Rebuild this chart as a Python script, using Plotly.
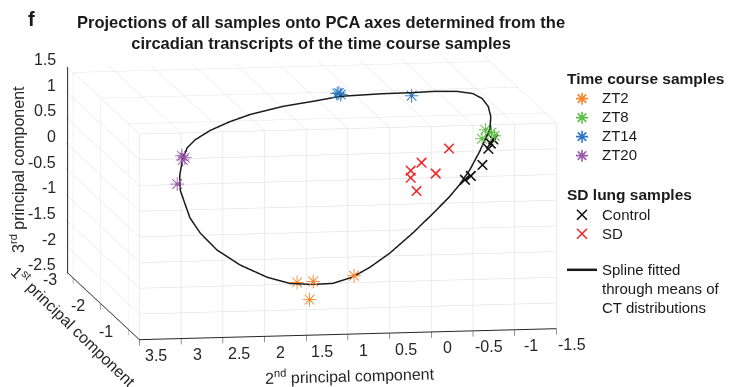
import plotly.graph_objects as go

FONT = "Arial, Liberation Sans, sans-serif"
W, H = 732, 379  # page has an 8px body margin; figure fills the rest of 740x387

# ---- data: (2nd PC, 1st PC, 3rd PC) ----
zt2_pc2 = [1.48, 1.22, 1.33, 0.73]
zt2_pc1 = [-1.0, -1.2, -1.0, -1.2]
zt2_pc3 = [-1.67, -1.76, -2.01, -1.67]

zt8_pc2 = [-1.11, -1.25, -1.07, -1.22]
zt8_pc1 = [-2.0, -2.2, -2.0, -2.0]
zt8_pc3 = [0.69, 0.53, 0.52, 0.57]

zt14_pc2 = [0.37, 0.36, 0.35, -0.49]
zt14_pc1 = [-2.9, -2.8, -2.9, -2.8]
zt14_pc3 = [1.01, 1.04, 1.02, 0.98]

zt20_pc2 = [2.53, 2.43, 2.52, 2.52]
zt20_pc1 = [-2.0, -2.2, -2.0, -2.2]
zt20_pc3 = [0.34, 0.20, 0.26, -0.31]

ctrl_pc2 = [-1.14, -1.11, -1.08, -1.01, -0.87, -0.80]
ctrl_pc1 = [-1.8, -1.8, -1.8, -1.8, -1.8, -1.8]
ctrl_pc3 = [0.60, 0.52, 0.42, 0.11, -0.10, -0.17]

sd_pc2 = [-0.51, -0.18, -0.05, -0.35, -0.05, -0.12]
sd_pc1 = [-1.5, -1.5, -1.5, -1.5, -1.5, -1.5]
sd_pc3 = [0.60, 0.34, 0.19, 0.12, 0.05, -0.21]

spline_pc2 = [2.52, 2.43, 2.30, 2.09, 1.82, 1.54, 1.11, 0.64, 0.33, -0.18,
              -0.51, -0.77, -1.00, -1.16, -1.24, -1.28, -1.26, -1.20, -1.11, -1.01,
              -0.86, -0.70, -0.55, -0.31, -0.04, 0.27, 0.54, 0.78, 1.05, 1.29,
              1.56, 1.80, 2.06, 2.27, 2.44, 2.53, 2.56, 2.58, 2.57, 2.52]
spline_pc1 = [-2.0, -2.1, -2.2, -2.3, -2.4, -2.5, -2.6, -2.8, -2.9, -2.9,
              -2.85, -2.8, -2.7, -2.6, -2.5, -2.4, -2.25, -2.1, -2.0, -1.9,
              -1.8, -1.7, -1.6, -1.5, -1.4, -1.3, -1.2, -1.1, -1.0, -1.0,
              -1.0, -1.1, -1.3, -1.5, -1.6, -1.7, -1.8, -1.9, -1.95, -2.0]
spline_pc3 = [0.26, 0.44, 0.54, 0.66, 0.77, 0.85, 0.94, 0.93, 0.95, 0.98,
              1.01, 1.05, 1.09, 1.09, 1.04, 0.93, 0.81, 0.64, 0.50, 0.32,
              0.02, -0.22, -0.39, -0.67, -0.98, -1.31, -1.52, -1.65, -1.71, -1.72,
              -1.69, -1.61, -1.46, -1.26, -0.97, -0.72, -0.48, -0.28, -0.02, 0.26]

x_range = [-1.5, 3.5]
y_range = [-0.6, -3.2]   # reversed: -3 nearest the viewer
z_range = [-2.5, 1.5]
x_ticks = [-1.5, -1, -0.5, 0, 0.5, 1, 1.5, 2, 2.5, 3, 3.5]
y_ticks = [-3, -2, -1]
z_ticks = [-2.5, -2, -1.5, -1, -0.5, 0, 0.5, 1, 1.5]

groups = [
    ("ZT2", "#F5862C", zt2_pc2, zt2_pc1, zt2_pc3, "✳"),
    ("ZT8", "#5DBE45", zt8_pc2, zt8_pc1, zt8_pc3, "✳"),
    ("ZT14", "#2F76C4", zt14_pc2, zt14_pc1, zt14_pc3, "✳"),
    ("ZT20", "#9A5BAA", zt20_pc2, zt20_pc1, zt20_pc3, "✳"),
    ("Control", "#111111", ctrl_pc2, ctrl_pc1, ctrl_pc3, "×"),
    ("SD", "#EE2A2A", sd_pc2, sd_pc1, sd_pc3, "×"),
]

fig = go.Figure()

fig.add_trace(go.Scatter3d(x=spline_pc2, y=spline_pc1, z=spline_pc3, mode="lines",
                           line=dict(color="#1a1a1a", width=3), showlegend=False,
                           hoverinfo="skip"))
for name, col, xs, ys, zs, ch in groups:
    fig.add_trace(go.Scatter3d(x=xs, y=ys, z=zs, mode="text", text=[ch] * len(xs),
                               textfont=dict(color=col, size=19, family="DejaVu Sans"),
                               textposition="middle center", showlegend=False, name=name))


def item(t):
    return f'<span style="font-size:15px">{t}</span>'


# legend entries
for name, col, xs, ys, zs, ch in groups:
    tc = ch == "✳"
    fig.add_trace(go.Scatter(x=[None], y=[None], mode="markers", name=item(name),
                             legendgroup="tc" if tc else "sd",
                             legendgrouptitle=dict(text="<b>Time course samples</b>" if tc else "<b>SD lung samples</b>",
                                                   font=dict(size=15.5, family=FONT, color="#1a1a1a")),
                             marker=dict(symbol="asterisk-open" if tc else "x-thin-open", size=10,
                                         line=dict(color=col, width=1.6), color=col)))
spline_label = ["Spline fitted", "through means of", "CT distributions"]
for i, t in enumerate(spline_label):
    fig.add_trace(go.Scatter(x=[None], y=[None], mode="lines", legendgroup="sp", name=item(t),
                             line=dict(color="#1a1a1a", width=2.5 if i == 0 else 0)))

ax_common = dict(showbackground=False, gridcolor="#dcdcdc", gridwidth=1, showline=True,
                 linecolor="#262626", linewidth=2, ticks="outside", tickcolor="#262626",
                 ticklen=6, showticklabels=False, title=dict(text=""),
                 zeroline=False, showspikes=False)

tick_font = dict(size=16, color="#262626", family=FONT)
scene_ann = []
for v in z_ticks:
    scene_ann.append(dict(x=x_range[1], y=y_range[1], z=v, text=f"{v:g}", showarrow=False,
                          xanchor="right", yanchor="middle", xshift=-10, yshift=8, font=tick_font))
for v in y_ticks:
    scene_ann.append(dict(x=x_range[1], y=v, z=z_range[0], text=f"{v:g}", showarrow=False,
                          xanchor="right", yanchor="middle", xshift=-14, yshift=-2, font=tick_font))
for v in x_ticks:
    scene_ann.append(dict(x=v, y=y_range[0], z=z_range[0], text=f"{v:g}", showarrow=False,
                          xanchor="center", yanchor="middle", xshift=16, yshift=-16, font=tick_font))

title_font = dict(size=16, family=FONT, color="#262626")

fig.update_layout(
    width=W, height=H, margin=dict(l=0, r=0, t=0, b=0),
    paper_bgcolor="white", plot_bgcolor="rgba(0,0,0,0)",
    font=dict(family=FONT, size=14, color="#262626"),
    xaxis=dict(visible=False), yaxis=dict(visible=False),
    scene=dict(
        domain=dict(x=[0.0003, 0.8303], y=[0.0397, 0.9577]),
        xaxis=dict(ax_common, range=x_range, tickvals=x_ticks),
        yaxis=dict(ax_common, range=y_range, tickvals=y_ticks),
        zaxis=dict(ax_common, range=z_range, tickvals=z_ticks),
        aspectmode="manual", aspectratio=dict(x=2.43, y=2.488, z=1.196),
        camera=dict(projection=dict(type="orthographic"), up=dict(x=0, y=0, z=1),
                    center=dict(x=0, y=0, z=0),
                    eye=dict(x=-0.1639 * 2.0, y=0.974 * 2.0, z=-0.1564 * 2.0)),
        annotations=scene_ann,
    ),
    legend=dict(x=554 / W, xanchor="left", y=1 - 53 / H, yanchor="top", bgcolor="rgba(0,0,0,0)",
                font=dict(size=12.3, family=FONT, color="#1a1a1a"), tracegroupgap=17,
                itemwidth=30),
    annotations=[
        dict(text="<b>f</b>", x=23 / W, y=1 - 11 / H, xref="paper", yref="paper",
             xanchor="center", yanchor="middle", showarrow=False,
             font=dict(size=20, family=FONT, color="#1a1a1a")),
        dict(text="<b>Projections of all samples onto PCA axes determined from the<br>"
                  "circadian transcripts of the time course samples</b>",
             x=313 / W, y=1 - 24 / H, xref="paper", yref="paper", xanchor="center", yanchor="middle",
             showarrow=False, font=dict(size=16.5, family=FONT, color="#1a1a1a")),
        dict(text="3<sup>rd</sup> principal component", x=9 / W, y=1 - 162 / H, xref="paper",
             yref="paper", xanchor="center", yanchor="middle", textangle=-90, showarrow=False,
             font=title_font),
        dict(text="1<sup>st</sup> principal component", x=66 / W, y=1 - 318 / H, xref="paper",
             yref="paper", xanchor="center", yanchor="middle", textangle=44, showarrow=False,
             font=title_font),
        dict(text="2<sup>nd</sup> principal component", x=342 / W, y=1 - 367 / H, xref="paper",
             yref="paper", xanchor="center", yanchor="middle", textangle=-1.5, showarrow=False,
             font=title_font),
    ],
)

fig.write_html("out.html")
